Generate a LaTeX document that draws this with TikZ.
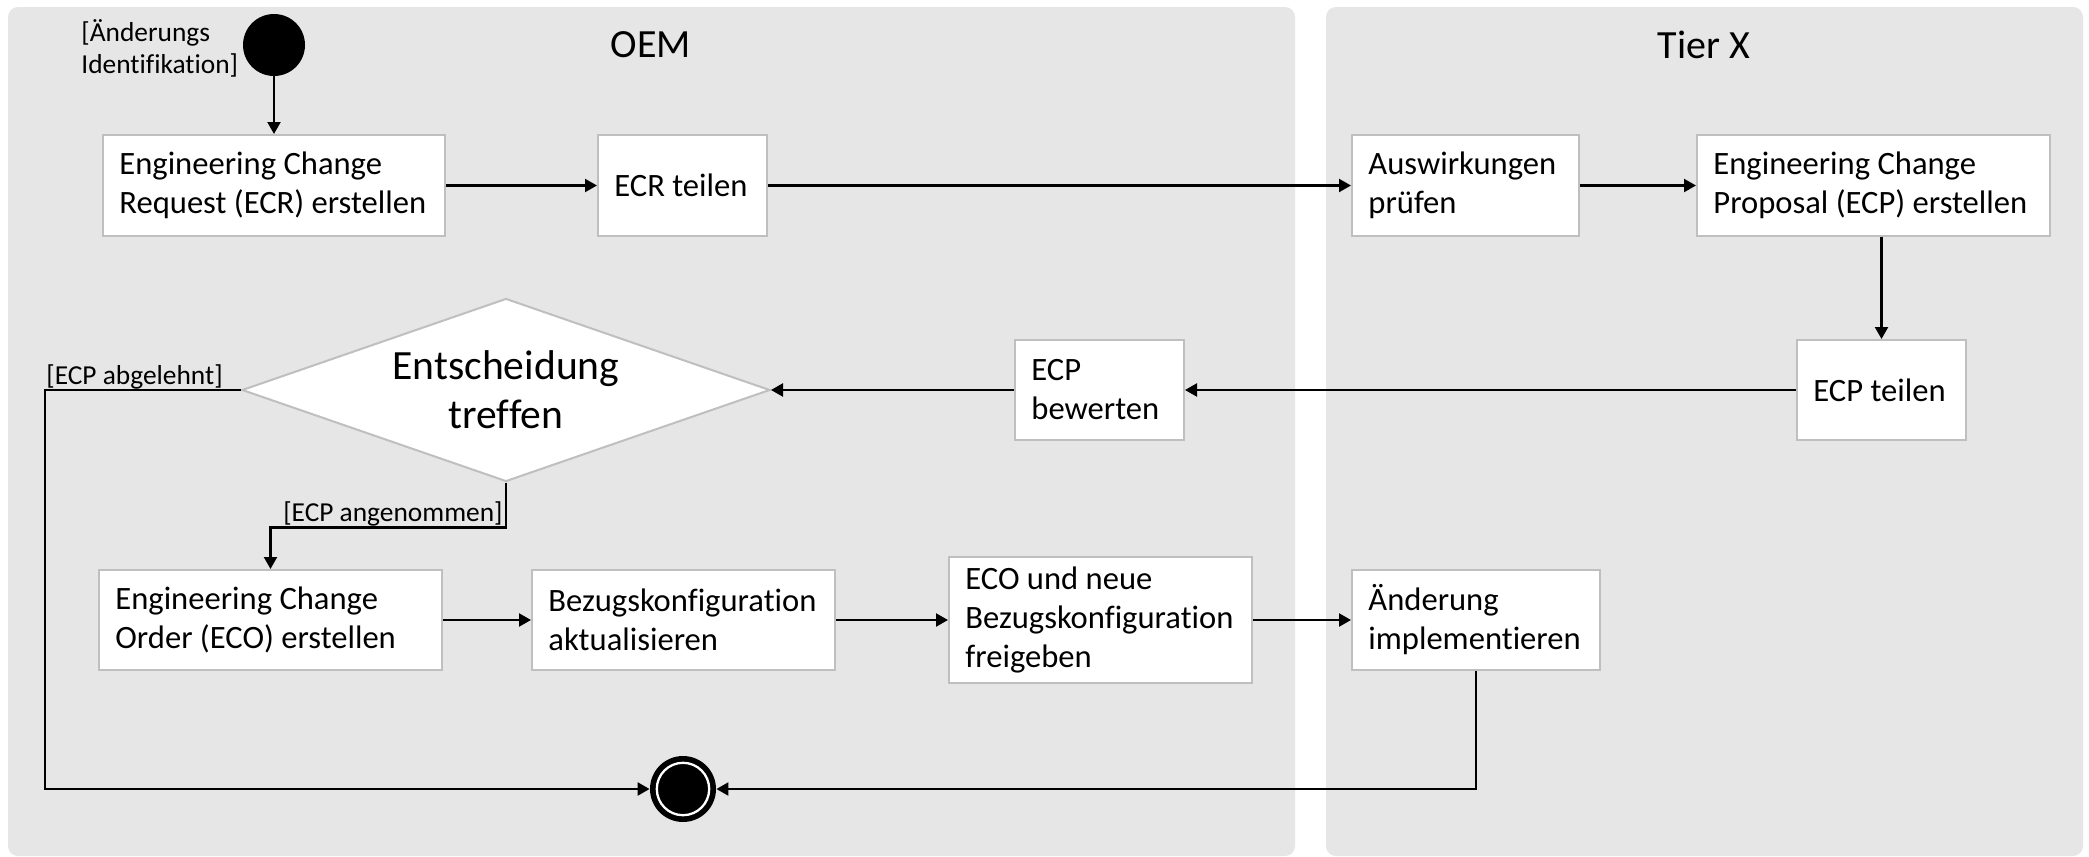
\documentclass[tikz,border=0pt]{standalone}
\usepackage{fontspec}
\setmainfont{Carlito}[Ligatures={NoCommon}]
\usetikzlibrary{shapes.geometric,arrows.meta}
\definecolor{panelgray}{RGB}{230,230,230}
\definecolor{boxgray}{RGB}{191,191,191}
\begin{document}
\begin{tikzpicture}[x=0.5pt,y=-0.5pt,
 panel/.style={fill=panelgray, rounded corners=5pt},
 actbox/.style={draw=boxgray, fill=white, line width=1pt, inner sep=0pt, rectangle},
 acttext/.style={anchor=west, align=left, inner sep=0pt, font=\fontsize{16.3}{19.5}\selectfont},
 arr/.style={line width=1.1pt, -{Triangle[length=6pt,width=6.5pt]}},
 guard/.style={inner sep=0pt, font=\fontsize{13.7}{16}\selectfont},
 lanetitle/.style={font=\fontsize{20}{24}\selectfont, inner sep=0pt}]
\useasboundingbox (0,0) rectangle (2089,857);
\fill[white] (0,0) rectangle (2089,857);
% swimlanes
\fill[panel] (8,7) rectangle (1295,856);
\fill[panel] (1326,7) rectangle (2083,856);
\node[lanetitle] (oem) at (651,45) {OEM};
\node[lanetitle] (tier) at (1704,45) {Tier X};
% start
\node[circle, fill=black, minimum size=31pt, inner sep=0pt] (start) at (274,45) {};
\node[guard, anchor=west, align=left] (startlbl) at (81,48) {[Änderungs\\Identifikation]};
% activities
\node[actbox, minimum width=171pt, minimum height=50.5pt] (ecr) at (274,185.5) {};
\node[acttext] (ecrT) at ([xshift=8.5pt]ecr.west) {Engineering Change\\Request (ECR) erstellen};
\node[actbox, minimum width=84.5pt, minimum height=50.5pt] (ecrt) at (682.5,185.5) {};
\node[acttext] (ecrtT) at ([xshift=8.5pt]ecrt.west) {ECR teilen};
\node[actbox, minimum width=113.5pt, minimum height=50.5pt] (ausw) at (1465.5,185.5) {};
\node[acttext] (auswT) at ([xshift=8.5pt]ausw.west) {Auswirkungen\\prüfen};
\node[actbox, minimum width=176.5pt, minimum height=50.5pt] (ecpe) at (1873.5,185.5) {};
\node[acttext] (ecpeT) at ([xshift=8.5pt]ecpe.west) {Engineering Change\\Proposal (ECP) erstellen};
\node[actbox, minimum width=84.5pt, minimum height=50pt] (ecpt) at (1881.5,390) {};
\node[acttext] (ecptT) at ([xshift=8.5pt]ecpt.west) {ECP teilen};
\node[actbox, minimum width=84.5pt, minimum height=50pt] (ecpb) at (1099.5,390) {};
\node[acttext] (ecpbT) at ([xshift=8.5pt]ecpb.west) {ECP\\bewerten};
\node[diamond, draw=boxgray, fill=white, line width=1pt, inner sep=0pt, minimum width=264pt, minimum height=91.5pt] (dia) at (506,390) {};
\node[align=center, inner sep=0pt, font=\fontsize{20.8}{24.5}\selectfont] (diaT) at (dia.center) {Entscheidung\\treffen};
\node[actbox, minimum width=171.5pt, minimum height=50pt] (eco) at (270.5,620) {};
\node[acttext] (ecoT) at ([xshift=8.5pt]eco.west) {Engineering Change\\Order (ECO) erstellen};
\node[actbox, minimum width=151.5pt, minimum height=50pt] (bez) at (683.5,620) {};
\node[acttext] (bezT) at ([xshift=8.5pt]bez.west) {Bezugskonfiguration\\aktualisieren};
\node[actbox, minimum width=151.5pt, minimum height=63pt] (frei) at (1100.5,620) {};
\node[acttext] (freiT) at ([xshift=8.5pt]frei.west) {ECO und neue\\Bezugskonfiguration\\freigeben};
\node[actbox, minimum width=124pt, minimum height=50pt] (aend) at (1476,620) {};
\node[acttext] (aendT) at ([xshift=8.5pt]aend.west) {Änderung\\implementieren};
% final node
\node[circle, fill=black, minimum size=33pt, inner sep=0pt] (end) at (683,789) {};
\draw[white, line width=1.15pt] (end.center) circle[radius=13.1pt];
% connectors
\coordinate (cl) at (45,789);
\draw[arr] (start) -- (ecr);
\draw[arr] (ecr) -- (ecrt);
\draw[arr] (ecrt) -- (ausw);
\draw[arr] (ausw) -- (ecpe);
\draw[arr] (ecpe.south -| ecpt.north) -- (ecpt.north);
\draw[arr] (ecpt) -- (ecpb);
\draw[arr] (ecpb) -- (dia.east);
\draw[arr] (dia.west) -| (cl) -- (end.west);
\draw[arr] (dia.south) -- ++(0,45) -| (eco.north);
\draw[arr] (eco) -- (bez);
\draw[arr] (bez) -- (frei);
\draw[arr] (frei) -- (aend);
\draw[arr] (aend.south) |- (end.east);
% guards
\node[guard, anchor=base west] (gab) at (46,384) {[ECP abgelehnt]};
\node[guard, anchor=base east] (gan) at (503,521) {[ECP angenommen]};
\end{tikzpicture}
\end{document}
